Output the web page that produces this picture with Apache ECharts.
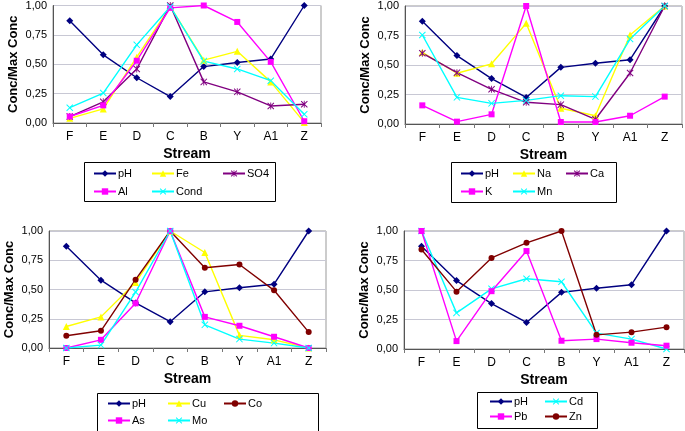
<!DOCTYPE html>
<html>
<head>
<meta charset="utf-8">
<script src="https://cdn.jsdelivr.net/npm/echarts@6/dist/echarts.min.js"></script>
<style>
  html, body { margin: 0; padding: 0; background: #fff; }
  #chart { width: 685px; height: 431px; }
</style>
</head>
<body>
<div id="chart"></div>
<script>
// streams along the x axis
var streams = ['F', 'E', 'D', 'C', 'B', 'Y', 'A1', 'Z'];
var yTickLabels = ['0,00', '0,25', '0,50', '0,75', '1,00'];

// pH is repeated in every panel
var pH = [0.87, 0.58, 0.385, 0.225, 0.48, 0.515, 0.545, 1.00];

// panel 1
var fe = [0.04, 0.12, 0.56, 0.99, 0.535, 0.61, 0.35, 0.005];
var al = [0.055, 0.15, 0.53, 0.98, 1.00, 0.86, 0.52, 0.015];
var cond = [0.13, 0.255, 0.665, 0.99, 0.527, 0.46, 0.36, 0.075];
var so4 = [0.055, 0.18, 0.46, 1.00, 0.35, 0.265, 0.145, 0.16];

// panel 2
var na = [0.607, 0.43, 0.51, 0.853, 0.133, 0.07, 0.754, 1.00];
var k = [0.158, 0.02, 0.082, 1.00, 0.017, 0.017, 0.07, 0.232];
var ca = [0.60, 0.435, 0.294, 0.184, 0.164, 0.04, 0.432, 1.00];
var mn = [0.754, 0.226, 0.175, 0.20, 0.24, 0.232, 0.72, 1.00];

// panel 3
var cu = [0.184, 0.266, 0.56, 1.00, 0.816, 0.108, 0.07, 0.0];
var co = [0.105, 0.147, 0.584, 1.00, 0.686, 0.714, 0.493, 0.136];
var as = [0.0, 0.07, 0.382, 1.00, 0.266, 0.19, 0.096, 0.0];
var mo = [0.0, 0.025, 0.478, 1.00, 0.198, 0.076, 0.042, 0.0];

// panel 4
var cd = [1.00, 0.306, 0.51, 0.595, 0.57, 0.135, 0.084, 0.0];
var pb = [1.00, 0.067, 0.49, 0.83, 0.07, 0.084, 0.053, 0.028];
var zn = [0.843, 0.486, 0.772, 0.90, 1.00, 0.12, 0.143, 0.185];

var FONT = '"Liberation Sans", Arial, sans-serif';
var crossPath = 'path://M0,1L1,0L5,4L9,0L10,1L6,5L10,9L9,10L5,6L1,10L0,9L4,5Z';
var starPath = 'path://M0,1L1,0L5,4L9,0L10,1L6,5L10,9L9,10L5,6L1,10L0,9L4,5Z M4.4,0L5.6,0L5.6,10L4.4,10Z';

var styles = {
    pH: { color: '#000080', symbol: 'diamond', size: 7 },
    yellow: { color: '#ffff00', symbol: 'triangle', size: 7 },
    magenta: { color: '#ff00ff', symbol: 'rect', size: 6 },
    cyan: { color: '#00ffff', symbol: crossPath, size: 7 },
    purple: { color: '#800080', symbol: starPath, size: 7 },
    brown: { color: '#800000', symbol: 'circle', size: 6 }
};

var panels = [
    {
        grid: { left: 53, top: 5, width: 268, height: 118 },
        box: [84, 162, 191, 39],
        series: [
            ['pH', pH, 'pH', 93, 174],
            ['Fe', fe, 'yellow', 151, 174],
            ['SO4', so4, 'purple', 222, 174],
            ['Al', al, 'magenta', 93, 192],
            ['Cond', cond, 'cyan', 151, 192]
        ]
    },
    {
        grid: { left: 405, top: 6, width: 277, height: 118 },
        box: [451, 162, 165, 40],
        series: [
            ['pH', pH, 'pH', 460, 174],
            ['Na', na, 'yellow', 512, 174],
            ['Ca', ca, 'purple', 565, 174],
            ['K', k, 'magenta', 460, 192],
            ['Mn', mn, 'cyan', 512, 192]
        ]
    },
    {
        grid: { left: 49, top: 231, width: 277, height: 117 },
        box: [97, 393, 221, 50],
        series: [
            ['pH', pH, 'pH', 107, 404],
            ['Cu', cu, 'yellow', 167, 404],
            ['Co', co, 'brown', 223, 404],
            ['As', as, 'magenta', 107, 421],
            ['Mo', mo, 'cyan', 167, 421]
        ]
    },
    {
        grid: { left: 404, top: 231, width: 280, height: 118 },
        box: [477, 392, 120, 36],
        series: [
            ['pH', pH, 'pH', 489, 402],
            ['Cd', cd, 'cyan', 544, 402],
            ['Pb', pb, 'magenta', 489, 417],
            ['Zn', zn, 'brown', 544, 417]
        ]
    }
];

var option = {
    animation: false,
    backgroundColor: '#fff',
    textStyle: { fontFamily: FONT },
    grid: [],
    xAxis: [],
    yAxis: [],
    series: [],
    legend: [],
    graphic: []
};

panels.forEach(function (p, i) {
    option.grid.push(Object.assign({
        show: true, borderColor: '#999', borderWidth: 1, backgroundColor: '#fff'
    }, p.grid));
    option.xAxis.push({
        type: 'category',
        gridIndex: i,
        data: streams,
        boundaryGap: true,
        name: 'Stream',
        nameLocation: 'middle',
        nameGap: 24,
        nameTextStyle: { fontFamily: FONT, fontSize: 14, fontWeight: 'bold', color: '#000' },
        axisLine: { lineStyle: { color: '#555', width: 1 } },
        axisTick: { show: true, length: 4, lineStyle: { color: '#777' } },
        axisLabel: { fontFamily: FONT, fontSize: 12, color: '#000', margin: 8 }
    });
    option.yAxis.push({
        type: 'value',
        gridIndex: i,
        min: 0,
        max: 1,
        interval: 0.25,
        name: 'Conc/Max Conc',
        nameLocation: 'middle',
        nameGap: 33,
        nameTextStyle: { fontFamily: FONT, fontSize: 13, fontWeight: 'bold', color: '#000' },
        axisLine: { show: true, lineStyle: { color: '#555', width: 1 } },
        axisTick: { show: false },
        axisLabel: {
            fontFamily: FONT, fontSize: 11, color: '#000', margin: 6,
            formatter: function (v) { return yTickLabels[Math.round(v / 0.25)]; }
        },
        splitLine: { lineStyle: { color: '#c8c8d4', width: 1 } }
    });
    p.series.forEach(function (s) {
        var st = styles[s[2]];
        option.series.push({
            name: s[0],
            type: 'line',
            xAxisIndex: i,
            yAxisIndex: i,
            data: s[1],
            symbol: st.symbol,
            symbolSize: st.size,
            showAllSymbol: true,
            color: st.color,
            lineStyle: { color: st.color, width: 1.4 },
            itemStyle: { color: st.color, borderWidth: 0 }
        });
        option.legend.push({
            data: [s[0]],
            left: s[3],
            top: s[4] - 6,
            padding: 0,
            itemWidth: 22,
            itemHeight: 8,
            itemGap: 0,
            selectedMode: false,
            textStyle: { fontFamily: FONT, fontSize: 11, color: '#000', padding: [0, 0, 0, -3] }
        });
    });
    option.graphic.push({
        type: 'rect',
        shape: { x: p.box[0] + 0.5, y: p.box[1] + 0.5, width: p.box[2], height: p.box[3] },
        style: { fill: 'none', stroke: '#000', lineWidth: 1 },
        z: -1
    });
});

var myChart = echarts.init(document.getElementById('chart'));
myChart.setOption(option);
</script>
</body>
</html>
